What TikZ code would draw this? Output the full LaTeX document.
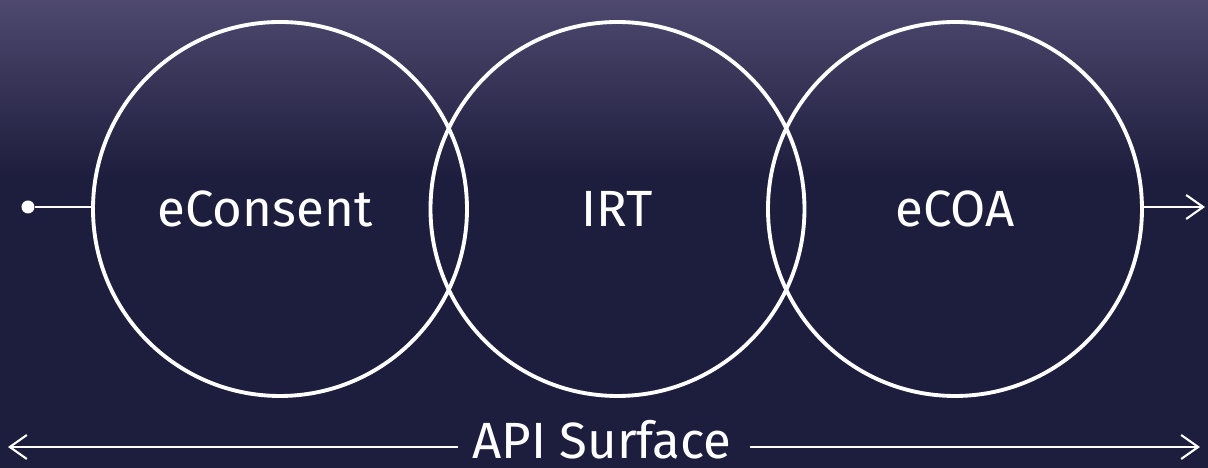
\documentclass[tikz,border=0pt]{standalone}
\usepackage{fontspec}
\setmainfont{Fira Sans}
\usepackage{xcolor}
\usetikzlibrary{arrows.meta}

\definecolor{navy}{RGB}{29,29,61}
\definecolor{haze}{RGB}{78,72,110}

\begin{document}
\begin{tikzpicture}[
    ring/.style={draw=white, line width=1.1pt, circle, minimum size=3.74cm, inner sep=0pt},
    lbl/.style={text=white, font=\fontsize{14.5}{16}\selectfont},
    wire/.style={draw=white, line width=0.6pt},
    barb/.style={-{Straight Barb[length=1.7mm,width=2.4mm]}}
  ]
            % background
            \fill[navy] (0,0) rectangle (12.08,4.68);
            \shade[top color=haze, bottom color=navy] (0,2.9) rectangle (12.08,4.68);
            \useasboundingbox (0,0) rectangle (12.08,4.68);

            \node[ring] (cons) at (2.80,2.59) {};
            \node[ring] (irt) at (6.175,2.59) {};
            \node[ring] (ecoa) at (9.55,2.59) {};

            \node[lbl] at (2.65,2.59) {eConsent};
            \node[lbl] at (irt) {IRT};
            \node[lbl] at (ecoa) {eCOA};

            \node[fill=white, circle, inner sep=0pt, minimum size=0.13cm] (start) at (0.28,2.61) {};
            \coordinate (finish) at (12.05,2.61);

            \draw[wire] (start) -- (cons.west |- start);
            \draw[wire, barb] (ecoa.east |- finish) -- (finish);

            \node[lbl, anchor=base, inner sep=1pt] (api) at (6.02,0.09) {API Surface};
            \coordinate (apileft) at (0.08,0.21);
            \coordinate (apiright) at (12.0,0.21);

            \draw[wire, barb] (api.west |- apileft) ++(-0.1,0) -- (apileft);
            \draw[wire, barb] (api.east |- apiright) ++(0.14,0) -- (apiright);
        \end{tikzpicture}
\end{document}
